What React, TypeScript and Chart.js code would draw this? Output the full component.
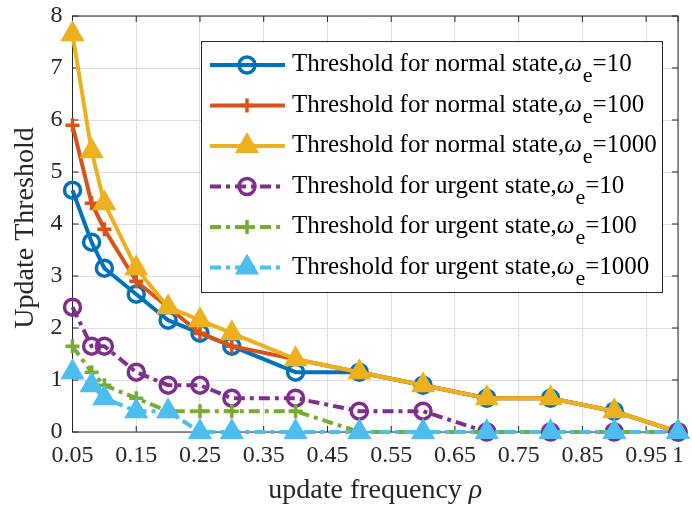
import React, { useEffect, useRef } from 'react';
import { Chart, registerables } from 'chart.js';

Chart.register(...registerables);

// ---- data ----
const xValues = [0.05, 0.08, 0.1, 0.15, 0.2, 0.25, 0.3, 0.4, 0.5, 0.6, 0.7, 0.8, 0.9, 1];
const normal10 = [4.65, 3.65, 3.15, 2.65, 2.15, 1.9, 1.65, 1.15, 1.15, 0.9, 0.65, 0.65, 0.4, 0];
const normal100 = [5.9, 4.4, 3.9, 2.9, 2.4, 1.9, 1.65, 1.4, 1.15, 0.9, 0.65, 0.65, 0.4, 0];
const normal1000 = [7.65, 5.4, 4.4, 3.15, 2.4, 2.15, 1.9, 1.4, 1.15, 0.9, 0.65, 0.65, 0.4, 0];
const urgent10 = [2.4, 1.65, 1.65, 1.15, 0.9, 0.9, 0.65, 0.65, 0.4, 0.4, 0, 0, 0, 0];
const urgent100 = [1.65, 1.15, 0.9, 0.65, 0.4, 0.4, 0.4, 0.4, 0, 0, 0, 0, 0, 0];
const urgent1000 = [1.15, 0.9, 0.65, 0.4, 0.4, 0, 0, 0, 0, 0, 0, 0, 0, 0];

const xTickValues = [0.05, 0.15, 0.25, 0.35, 0.45, 0.55, 0.65, 0.75, 0.85, 0.95, 1];
const xTickLabels = ['0.05', '0.15', '0.25', '0.35', '0.45', '0.55', '0.65', '0.75', '0.85', '0.95', '1'];
const yTickValues = [0, 1, 2, 3, 4, 5, 6, 7, 8];

const legendPrefix = [
  'Threshold for normal state,',
  'Threshold for normal state,',
  'Threshold for normal state,',
  'Threshold for urgent state,',
  'Threshold for urgent state,',
  'Threshold for urgent state,',
];
const legendSuffix = ['=10', '=100', '=1000', '=10', '=100', '=1000'];
const xTitleMain = 'update frequency ';
const xTitleSymbol = 'ρ';
const yTitle = 'Update Threshold';

const FONT = '"Liberation Serif", "Times New Roman", serif';
const AXIS_COLOR = '#262626';
const GRID_COLOR = '#dfdfdf';
const DASHDOT = [11, 5, 4, 5];

type Series = {
  values: number[];
  color: string;
  marker: 'circle' | 'cross' | 'triangle';
  radius: number;
  pbw: number;
  dash: number[];
};

const series: Series[] = [
  { values: normal10, color: '#0072BD', marker: 'circle', radius: 8, pbw: 3.5, dash: [] },
  { values: normal100, color: '#D95319', marker: 'cross', radius: 7, pbw: 3.5, dash: [] },
  { values: normal1000, color: '#EDB120', marker: 'triangle', radius: 12, pbw: 2, dash: [] },
  { values: urgent10, color: '#7E2F8E', marker: 'circle', radius: 8, pbw: 3.5, dash: DASHDOT },
  { values: urgent100, color: '#77AC30', marker: 'cross', radius: 7, pbw: 3.5, dash: DASHDOT },
  { values: urgent1000, color: '#4DBEEE', marker: 'triangle', radius: 12, pbw: 2, dash: DASHDOT },
];

function drawMarker(ctx: CanvasRenderingContext2D, s: Series, x: number, y: number) {
  ctx.save();
  ctx.setLineDash([]);
  ctx.strokeStyle = s.color;
  ctx.fillStyle = s.color;
  ctx.lineWidth = s.pbw;
  ctx.beginPath();
  if (s.marker === 'circle') {
    ctx.arc(x, y, s.radius, 0, Math.PI * 2);
  } else if (s.marker === 'cross') {
    ctx.moveTo(x - s.radius, y);
    ctx.lineTo(x + s.radius, y);
    ctx.moveTo(x, y - s.radius);
    ctx.lineTo(x, y + s.radius);
  } else {
    const r = s.radius;
    ctx.moveTo(x, y - r);
    ctx.lineTo(x + Math.sin((2 * Math.PI) / 3) * r, y + r / 2);
    ctx.lineTo(x - Math.sin((2 * Math.PI) / 3) * r, y + r / 2);
    ctx.closePath();
    ctx.fill();
  }
  ctx.stroke();
  ctx.restore();
}

const framePlugin = {
  id: 'frame',
  beforeDatasetsDraw(chart: any) {
    const { ctx, chartArea } = chart;
    const { left, right, top, bottom } = chartArea;
    const xs = chart.scales.x;
    const ys = chart.scales.y;
    ctx.save();
    ctx.strokeStyle = AXIS_COLOR;
    ctx.lineWidth = 1;
    ctx.strokeRect(left, top, right - left, bottom - top);
    ctx.beginPath();
    const tl = 6;
    xTickValues.forEach((v) => {
      const px = xs.getPixelForValue(v);
      ctx.moveTo(px, bottom);
      ctx.lineTo(px, bottom - tl);
      ctx.moveTo(px, top);
      ctx.lineTo(px, top + tl);
    });
    yTickValues.forEach((v) => {
      const py = ys.getPixelForValue(v);
      ctx.moveTo(left, py);
      ctx.lineTo(left + tl, py);
      ctx.moveTo(right, py);
      ctx.lineTo(right - tl, py);
    });
    ctx.stroke();
    ctx.restore();
  },
  afterDraw(chart: any) {
    const { ctx, chartArea } = chart;
    ctx.save();
    // x title
    ctx.fillStyle = AXIS_COLOR;
    ctx.textBaseline = 'alphabetic';
    ctx.font = `28px ${FONT}`;
    const w1 = ctx.measureText(xTitleMain).width;
    ctx.font = `italic 28px ${FONT}`;
    const w2 = ctx.measureText(xTitleSymbol).width;
    const cx = (chartArea.left + chartArea.right) / 2;
    const sx = cx - (w1 + w2) / 2;
    ctx.font = `28px ${FONT}`;
    ctx.textAlign = 'left';
    ctx.fillText(xTitleMain, sx, 498);
    ctx.font = `italic 28px ${FONT}`;
    ctx.fillText(xTitleSymbol, sx + w1, 498);

    // y title
    ctx.save();
    ctx.translate(33, (chartArea.top + chartArea.bottom) / 2 + 4);
    ctx.rotate(-Math.PI / 2);
    ctx.font = `28px ${FONT}`;
    ctx.textAlign = 'center';
    ctx.fillText(yTitle, 0, 0);
    ctx.restore();

    // legend
    const lx = 201.5, ly = 41.5, lw = 461, lh = 251;
    ctx.fillStyle = '#ffffff';
    ctx.fillRect(lx, ly, lw, lh);
    ctx.strokeStyle = AXIS_COLOR;
    ctx.lineWidth = 1;
    ctx.strokeRect(lx, ly, lw, lh);
    series.forEach((s, i) => {
      const y = 65 + i * 40.5;
      ctx.save();
      ctx.strokeStyle = s.color;
      ctx.lineWidth = 4;
      ctx.setLineDash(s.dash);
      ctx.beginPath();
      ctx.moveTo(210, y);
      ctx.lineTo(285, y);
      ctx.stroke();
      ctx.restore();
      drawMarker(ctx, s, 247, y);
      ctx.fillStyle = '#000000';
      ctx.textAlign = 'left';
      ctx.textBaseline = 'alphabetic';
      let tx = 292;
      const by = y + 6;
      ctx.font = `25px ${FONT}`;
      ctx.fillText(legendPrefix[i], tx, by);
      tx += ctx.measureText(legendPrefix[i]).width;
      ctx.font = `italic 25px ${FONT}`;
      ctx.fillText('ω', tx, by);
      tx += ctx.measureText('ω').width + 1;
      ctx.font = `22px ${FONT}`;
      ctx.fillText('e', tx, by + 11);
      tx += ctx.measureText('e').width;
      ctx.font = `25px ${FONT}`;
      ctx.fillText(legendSuffix[i], tx, by);
    });
    ctx.restore();
  },
};

export default function App() {
  const ref = useRef<HTMLCanvasElement>(null);
  useEffect(() => {
    const canvas = ref.current;
    if (!canvas) return;
    const chart = new Chart(canvas, {
      type: 'line',
      data: {
        datasets: series.map((s, i) => ({
          label: legendPrefix[i] + legendSuffix[i],
          data: xValues.map((x, j) => ({ x, y: s.values[j] })),
          borderColor: s.color,
          backgroundColor: 'rgba(0,0,0,0)',
          borderWidth: 4,
          borderDash: s.dash,
          pointStyle: s.marker,
          pointRadius: s.radius,
          pointHoverRadius: s.radius,
          pointBorderWidth: s.pbw,
          pointBorderColor: s.color,
          pointBackgroundColor: s.marker === 'triangle' ? s.color : 'rgba(0,0,0,0)',
          tension: 0,
          fill: false,
          clip: false as any,
          order: series.length - i,
        })),
      },
      options: {
        animation: false,
        responsive: true,
        maintainAspectRatio: false,
        layout: { padding: { left: 0, top: 16, right: 4.5, bottom: 0 } },
        plugins: {
          legend: { display: false },
          tooltip: { enabled: false },
        },
        scales: {
          x: {
            type: 'linear',
            min: 0.05,
            max: 1,
            afterBuildTicks: (scale: any) => {
              scale.ticks = xTickValues.map((v) => ({ value: v }));
            },
            afterFit: (scale: any) => {
              scale.height = 78;
              scale.paddingLeft = 0;
              scale.paddingRight = 0;
            },
            ticks: {
              autoSkip: false,
              maxRotation: 0,
              minRotation: 0,
              padding: 9,
              color: AXIS_COLOR,
              font: { family: FONT, size: 24 },
              callback: (v: any) => {
                const idx = xTickValues.findIndex((t) => Math.abs(t - Number(v)) < 1e-9);
                return idx >= 0 ? xTickLabels[idx] : '';
              },
            },
            grid: { color: GRID_COLOR, lineWidth: 1, drawTicks: false },
            border: { display: false },
          },
          y: {
            type: 'linear',
            min: 0,
            max: 8,
            afterBuildTicks: (scale: any) => {
              scale.ticks = yTickValues.map((v) => ({ value: v }));
            },
            afterFit: (scale: any) => {
              scale.width = 72.5;
              scale.paddingTop = 0;
              scale.paddingBottom = 0;
            },
            ticks: {
              padding: 10,
              color: AXIS_COLOR,
              font: { family: FONT, size: 24 },
              callback: (v: any) => String(v),
            },
            grid: { color: GRID_COLOR, lineWidth: 1, drawTicks: false },
            border: { display: false },
          },
        },
      },
      plugins: [framePlugin],
    } as any);
    return () => chart.destroy();
  }, []);
  return (
    <div style={{ position: 'fixed', left: 0, top: 0, width: 692, height: 510, background: '#ffffff' }}>
      <canvas ref={ref} />
    </div>
  );
}
